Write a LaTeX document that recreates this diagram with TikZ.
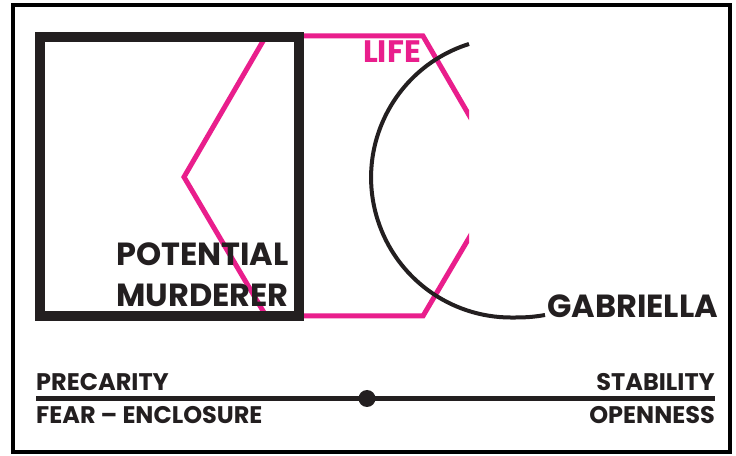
\documentclass[tikz,border=0pt]{standalone}
\usepackage{fontspec}
\setmainfont{Poppins}
\usetikzlibrary{positioning}
\definecolor{ink}{RGB}{35,31,32}
\definecolor{lifepink}{RGB}{233,30,140}

\begin{document}
\begin{tikzpicture}[
  x=1pt, y=1pt,
  bigtxt/.style={font=\bfseries\fontsize{32}{32}\selectfont, text=ink, inner sep=0pt},
  axistxt/.style={font=\bfseries\fontsize{24}{24}\selectfont, text=ink, inner sep=0pt},
  enclosure/.style={draw=ink, line width=10.5pt, inner sep=0pt, minimum width=259pt, minimum height=279pt}
]
  \useasboundingbox[fill=white] (0,0) rectangle (736,455);
  \draw[line width=4pt] (13,3) rectangle (730,450);

  \begin{scope}
    \clip (0,0) rectangle (469,455);
    \draw[lifepink, line width=5pt] (266,419) -- (423,419) -- (505,278) -- (423,139) -- (266,139) -- (184,278) -- cycle;
  \end{scope}

  \node[enclosure] (sq) at (169.5,278.5) {};
  \node[bigtxt, anchor=base east] (murderer) at (289,148) {MURDERER};
  \node[bigtxt, anchor=base east] (potential) at (289,189) {POTENTIAL};
  \node[font=\bfseries\fontsize{31}{31}\selectfont, text=lifepink, inner sep=0pt, anchor=base east] (life) at (421,392) {LIFE};

  \node[font=\bfseries\fontsize{32}{32}\selectfont, text=ink, inner sep=0pt, anchor=base west] (gabriella) at (547,137) {GABRIELLA};
  \draw[ink, line width=4pt] (469,411) arc[start angle=107.5, end angle=270, radius=140] to[out=0, in=190] ([xshift=-2pt, yshift=3pt]gabriella.base west);

  \coordinate (lft) at (36,56.5);
  \coordinate (rgt) at (715,56.5);
  \draw[ink, line width=4.5pt] (lft) -- (rgt);
  \node[circle, fill=ink, inner sep=0pt, minimum size=17pt] (mid) at (367,56.5) {};

  \node[axistxt, anchor=base west] (precarity) at (36,64) {PRECARITY};
  \node[axistxt, anchor=base west] (fear) at (36,31) {FEAR – ENCLOSURE};
  \node[axistxt, anchor=base east] (stability) at (715,64) {STABILITY};
  \node[axistxt, anchor=base east] (openness) at (715,31) {OPENNESS};
\end{tikzpicture}
\end{document}
